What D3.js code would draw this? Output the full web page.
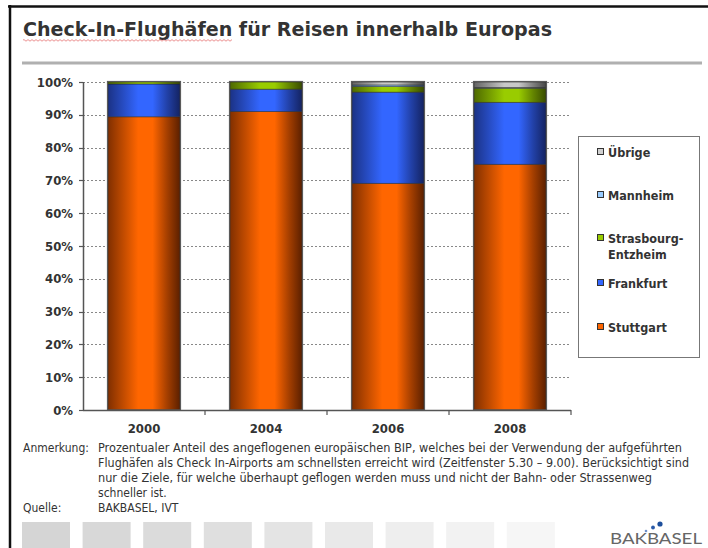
<!DOCTYPE html>
<html>
<head>
<meta charset="utf-8">
<script src="https://cdn.jsdelivr.net/npm/d3@7"></script>
<style>
  html, body { margin: 0; padding: 0; background: #fff; }
  svg { display: block; font-family: "DejaVu Sans Condensed", "DejaVu Sans", sans-serif; }
</style>
</head>
<body>
<div id="chart"></div>
<script>
// Data (percent shares)
const years = ['2000', '2004', '2006', '2008'];
const seriesNames = ['Stuttgart', 'Frankfurt', 'Strasbourg-Entzheim', 'Mannheim', 'Übrige'];
const stuttgart = [89.4, 91.0, 69.1, 74.9];
const frankfurt = [10.0, 6.8, 27.8, 18.9];
const strasbourg = [0.6, 2.2, 1.7, 4.3];
const mannheim = [0, 0, 0.5, 0.2];
const uebrige = [0, 0, 0.9, 1.7];
const yTicks = [0, 10, 20, 30, 40, 50, 60, 70, 80, 90, 100];

const noteLines = [
  'Prozentualer Anteil des angeflogenen europäischen BIP, welches bei der Verwendung der aufgeführten',
  'Flughäfen als Check In-Airports am schnellsten erreicht wird (Zeitfenster 5.30 – 9.00). Berücksichtigt sind',
  'nur die Ziele, für welche überhaupt geflogen werden muss und nicht der Bahn- oder Strassenweg',
  'schneller ist.'
];

(() => {
  const W = 708, H = 548;
  const svg = d3.select('#chart').append('svg')
    .attr('width', W).attr('height', H);

  // colours: [edge, centre] for the cylinder-ish shading
  const colors = {
    'Stuttgart': ['#4a1800', '#ff6600'],
    'Frankfurt': ['#101c50', '#3366ff'],
    'Strasbourg-Entzheim': ['#2e3e00', '#99cc00'],
    'Mannheim': ['#2c4260', '#99ccff'],
    'Übrige': ['#383838', '#c8c8c8']
  };

  const defs = svg.append('defs');
  seriesNames.forEach((name, i) => {
    const [edge, mid] = colors[name];
    const grad = defs.append('linearGradient')
      .attr('id', 'grad' + i)
      .attr('x1', 0).attr('x2', 1).attr('y1', 0).attr('y2', 0);
    const mix = d3.interpolateRgb(edge, mid);
    grad.append('stop').attr('offset', 0).attr('stop-color', mix(0.3));
    grad.append('stop').attr('offset', 0.18).attr('stop-color', mix(0.6));
    grad.append('stop').attr('offset', 0.42).attr('stop-color', mid);
    grad.append('stop').attr('offset', 0.62).attr('stop-color', mid);
    grad.append('stop').attr('offset', 0.82).attr('stop-color', mix(0.5));
    grad.append('stop').attr('offset', 1).attr('stop-color', mix(0.1));
  });

  // Frame
  svg.append('line').attr('x1', 8).attr('x2', W).attr('y1', 6.5).attr('y2', 6.5)
    .attr('stroke', '#111').attr('stroke-width', 2.5);
  svg.append('line').attr('x1', 10).attr('x2', 10).attr('y1', 5).attr('y2', H)
    .attr('stroke', '#111').attr('stroke-width', 2.5);

  // Title
  svg.append('text')
    .attr('x', 23).attr('y', 36)
    .attr('font-size', 19).attr('font-weight', 'bold')
    .attr('fill', '#333')
    .attr('textLength', 529).attr('lengthAdjust', 'spacingAndGlyphs')
    .text('Check-In-Flughäfen für Reisen innerhalb Europas');

  // spell-check squiggle under the first word
  let sq = 'M23,40';
  for (let x = 23; x < 233; x += 2) sq += `L${x + 1},${x % 4 === 1 ? 41.2 : 39.6}`;
  svg.append('path').attr('d', sq).attr('fill', 'none')
    .attr('stroke', '#e05050').attr('stroke-width', 0.8).attr('opacity', 0.8);

  svg.append('line').attr('x1', 22).attr('x2', 702).attr('y1', 63).attr('y2', 63)
    .attr('stroke', '#b0b0b0').attr('stroke-width', 3);

  // Scales
  const x = d3.scaleBand().domain(years).range([83, 571])
    .paddingInner(0.41).paddingOuter(0.205);
  const y = d3.scaleLinear().domain([0, 100]).range([410, 82]);

  // Gridlines
  svg.append('g').selectAll('line')
    .data(yTicks.filter(d => d > 0))
    .join('line')
    .attr('x1', 83).attr('x2', 571)
    .attr('y1', d => Math.round(y(d)) + 0.5).attr('y2', d => Math.round(y(d)) + 0.5)
    .attr('stroke', '#888').attr('stroke-width', 1)
    .attr('stroke-dasharray', '2,2');

  // Stacked bars
  const rows = years.map((yr, i) => ({
    year: yr,
    'Stuttgart': stuttgart[i],
    'Frankfurt': frankfurt[i],
    'Strasbourg-Entzheim': strasbourg[i],
    'Mannheim': mannheim[i],
    'Übrige': uebrige[i]
  }));
  const stacked = d3.stack().keys(seriesNames)(rows);

  const layers = svg.append('g').selectAll('g')
    .data(stacked)
    .join('g')
    .attr('fill', (d, i) => `url(#grad${i})`);

  layers.selectAll('rect')
    .data(d => d.filter(s => s[1] - s[0] > 0))
    .join('rect')
    .attr('x', d => x(d.data.year))
    .attr('width', x.bandwidth())
    .attr('y', d => y(d[1]))
    .attr('height', d => y(d[0]) - y(d[1]))
    .attr('stroke', '#222')
    .attr('stroke-opacity', 0.6)
    .attr('stroke-width', 0.8);

  // bar outline
  svg.append('g').selectAll('rect')
    .data(years)
    .join('rect')
    .attr('x', d => x(d) - 0.5)
    .attr('width', x.bandwidth() + 1)
    .attr('y', y(100) - 0.5)
    .attr('height', y(0) - y(100) + 0.5)
    .attr('fill', 'none')
    .attr('stroke', '#5a5a5a')
    .attr('stroke-width', 1.2);

  // Y axis
  const yAxis = svg.append('g');
  yAxis.append('line').attr('x1', 83.5).attr('x2', 83.5).attr('y1', y(100)).attr('y2', y(0) + 1)
    .attr('stroke', '#555').attr('stroke-width', 1.5);
  yAxis.selectAll('line.tick')
    .data(yTicks)
    .join('line').attr('class', 'tick')
    .attr('x1', 79).attr('x2', 83)
    .attr('y1', d => Math.round(y(d)) + 0.5).attr('y2', d => Math.round(y(d)) + 0.5)
    .attr('stroke', '#555').attr('stroke-width', 1.2);
  yAxis.selectAll('text')
    .data(yTicks)
    .join('text')
    .attr('x', 73).attr('y', d => y(d) + 4.5)
    .attr('text-anchor', 'end')
    .attr('font-size', 13).attr('font-weight', 'bold').attr('fill', '#333')
    .text(d => d + '%');

  // X axis
  const step = x.step();
  const bounds = d3.range(years.length + 1).map(i => 83 + i * step);
  svg.append('line').attr('x1', 83).attr('x2', 571).attr('y1', 410.5).attr('y2', 410.5)
    .attr('stroke', '#555').attr('stroke-width', 1.5);
  svg.append('g').selectAll('line')
    .data(bounds.slice(1))
    .join('line')
    .attr('x1', d => d).attr('x2', d => d)
    .attr('y1', 410).attr('y2', 415)
    .attr('stroke', '#555').attr('stroke-width', 1.2);
  svg.append('g').selectAll('text')
    .data(years)
    .join('text')
    .attr('x', d => x(d) + x.bandwidth() / 2)
    .attr('y', 433)
    .attr('text-anchor', 'middle')
    .attr('font-size', 13).attr('font-weight', 'bold').attr('fill', '#333')
    .text(d => d);

  // Legend
  svg.append('rect').attr('x', 578.5).attr('y', 136.5).attr('width', 121).attr('height', 221)
    .attr('fill', '#fff').attr('stroke', '#777').attr('stroke-width', 1);
  const legendItems = [
    { name: 'Übrige', lines: ['Übrige'], y: 152 },
    { name: 'Mannheim', lines: ['Mannheim'], y: 195 },
    { name: 'Strasbourg-Entzheim', lines: ['Strasbourg-', 'Entzheim'], y: 238 },
    { name: 'Frankfurt', lines: ['Frankfurt'], y: 283 },
    { name: 'Stuttgart', lines: ['Stuttgart'], y: 327 }
  ];
  const li = svg.append('g').selectAll('g')
    .data(legendItems)
    .join('g')
    .attr('transform', d => `translate(0,${d.y})`);
  li.append('rect')
    .attr('x', 597.5).attr('y', -3.5).attr('width', 6).attr('height', 6)
    .attr('fill', d => d.name === 'Übrige' ? '#d0d0d0' : colors[d.name][1])
    .attr('stroke', '#333').attr('stroke-width', 1);
  li.each(function (d) {
    d3.select(this).selectAll('text')
      .data(d.lines)
      .join('text')
      .attr('x', 608).attr('y', (t, j) => 4.5 + j * 16)
      .attr('font-size', 12.5).attr('font-weight', 'bold').attr('fill', '#333')
      .text(t => t);
  });

  // Notes
  const notes = svg.append('g').attr('font-size', 12).attr('fill', '#333');
  notes.append('text').attr('x', 23).attr('y', 452).text('Anmerkung:');
  const noteWidths = [584, 591, 554, null];
  noteLines.forEach((t, i) => {
    const tx = notes.append('text').attr('x', 98).attr('y', 452 + i * 15).text(t);
    if (noteWidths[i]) tx.attr('textLength', noteWidths[i]).attr('lengthAdjust', 'spacingAndGlyphs');
  });
  notes.append('text').attr('x', 23).attr('y', 512).text('Quelle:');
  notes.append('text').attr('x', 98).attr('y', 512).text('BAKBASEL, IVT');

  // Gray footer squares
  const greys = ['#d5d5d5', '#d8d8d8', '#dbdbdb', '#dfdfdf', '#e4e4e4', '#e9e9e9', '#eeeeee', '#f2f2f2', '#f6f6f6'];
  svg.append('g').selectAll('rect')
    .data(greys)
    .join('rect')
    .attr('x', (d, i) => 22 + i * 60.6)
    .attr('y', 522).attr('width', 48).attr('height', 30)
    .attr('fill', d => d);

  // Logo
  svg.append('text').attr('x', 610).attr('y', 544)
    .attr('font-family', 'Lato, "Open Sans", sans-serif')
    .attr('font-size', 15).attr('fill', '#666')
    .attr('textLength', 92).attr('lengthAdjust', 'spacingAndGlyphs')
    .text('BAKBASEL');
  const dots = [[646, 531, 1.3, '#6f8fc8'], [653, 527.5, 1.9, '#2a5aa8'], [660, 524, 2.6, '#1d4f9c']];
  svg.append('g').selectAll('circle')
    .data(dots)
    .join('circle')
    .attr('cx', d => d[0]).attr('cy', d => d[1]).attr('r', d => d[2])
    .attr('fill', d => d[3]);
})();
</script>
</body>
</html>
